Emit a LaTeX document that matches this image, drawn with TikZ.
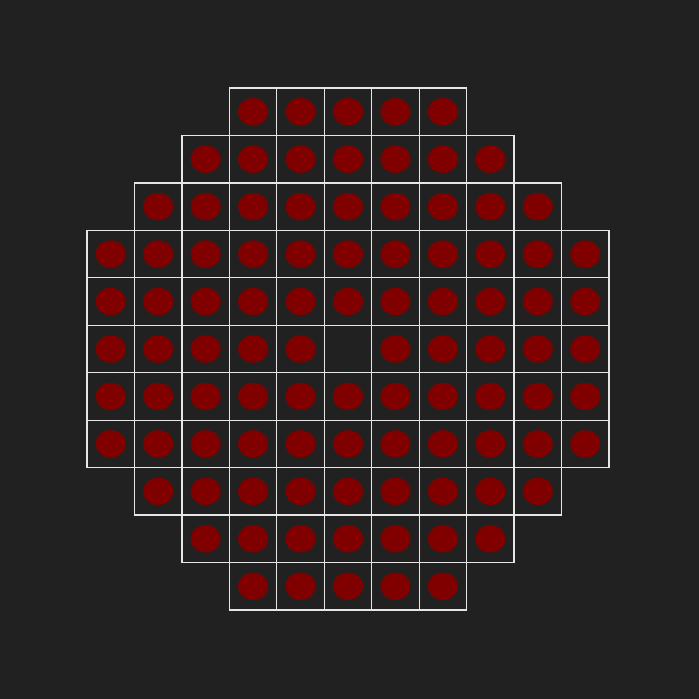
\documentclass[tikz,border=0pt]{standalone}
\usetikzlibrary{shapes.geometric}
\definecolor{bgdark}{HTML}{212121}
\definecolor{pinred}{HTML}{800000}
\definecolor{gridline}{HTML}{E6E6E6}

\begin{document}
\begin{tikzpicture}[x=1pt,y=-1pt,
    cell/.style={draw=gridline, line width=1.2pt, minimum size=47.45pt,
      inner sep=0pt, outer sep=0pt},
    pin/.style={ellipse, fill=pinred, minimum width=30pt,
      minimum height=27.4pt, inner sep=0pt}
  ]
  \fill[bgdark] (0,0) rectangle (699,699);
  \useasboundingbox (0,0) rectangle (699,699);
  % rows of the core: row/first column/last column
  \foreach \r/\first/\last in {0/3/7,1/2/8,2/1/9,3/0/10,4/0/10,5/0/10,
      6/0/10,7/0/10,8/1/9,9/2/8,10/3/7} {
    \foreach \c in {\first,...,\last} {
      \node[cell] (cell-\r-\c) at ({87+47.45*(\c+0.5)},{88+47.45*(\r+0.5)}) {};
      % centre position stays empty
      \ifnum\numexpr\r*100+\c\relax=505 \else
        \node[pin] (pin-\r-\c) at (cell-\r-\c) {};
      \fi
    }
  }
\end{tikzpicture}
\end{document}
